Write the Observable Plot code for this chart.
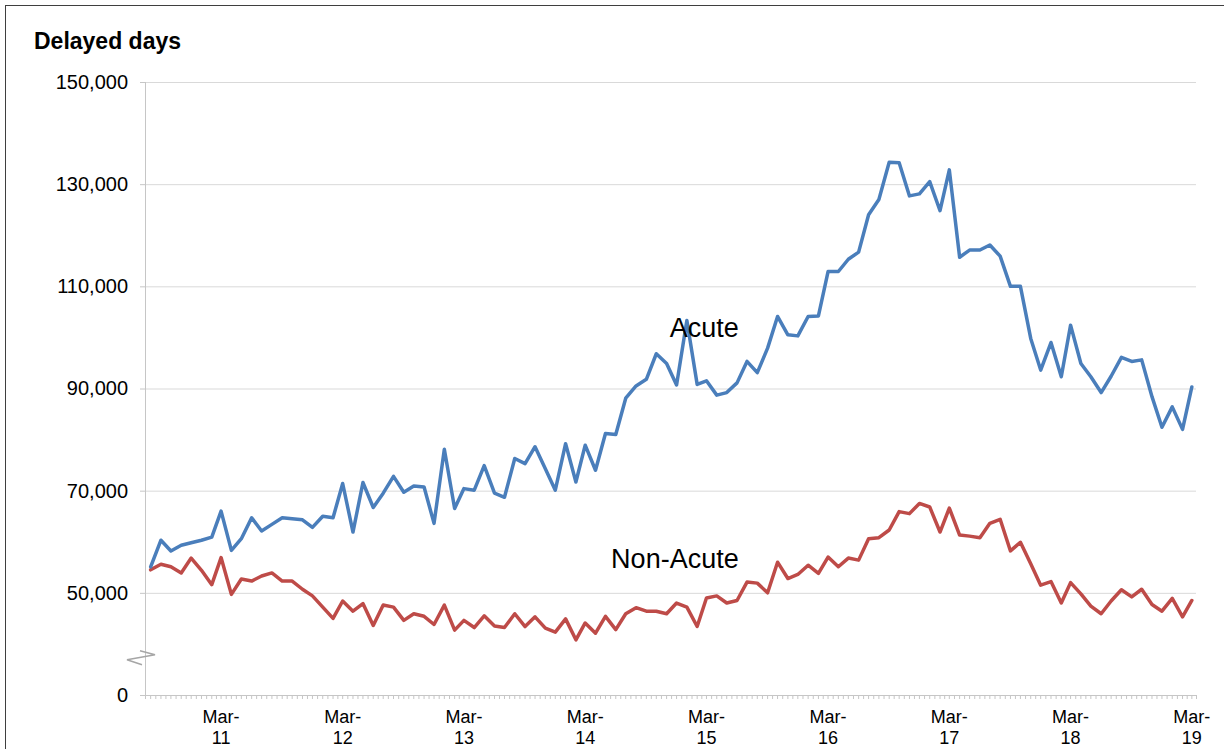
<!DOCTYPE html>
<html>
<head>
<meta charset="utf-8">
<script src="https://cdn.jsdelivr.net/npm/d3@7"></script>
<script src="https://cdn.jsdelivr.net/npm/@observablehq/plot@0.6"></script>
<style>
html, body { margin: 0; padding: 0; background: #fff; overflow: hidden; }
#wrap { position: relative; width: 1224px; height: 749px; font-family: "Liberation Sans", Arial, sans-serif; }
#frame { position: absolute; left: 5px; top: 5px; width: 1240px; height: 770px; border: 1px solid #3f3f3f; box-sizing: border-box; pointer-events: none; }
#title { height: 60px; box-sizing: border-box; padding: 30px 0 0 34px; font-weight: bold; font-size: 23px; line-height: 22px; color: #000; }
#chart svg { display: block; }
</style>
</head>
<body>
<div id="wrap">
  <div id="frame"></div>
  <div id="title">Delayed days</div>
  <div id="chart"></div>
</div>
<script>
// ---- Data (monthly, Aug 2010 – Mar 2019) ----
const firstMonth = new Date(Date.UTC(2010, 7, 1));
const lastMonth = new Date(Date.UTC(2019, 2, 1));
const months = d3.utcMonth.range(firstMonth, d3.utcMonth.offset(lastMonth, 1));

const acute = [
  55200, 60400, 58300, 59400, 59900, 60400, 61000, 66100, 58400, 60700,
  64800, 62200, 63500, 64800, 64600, 64400, 62900, 65100, 64800, 71500,
  62000, 71700, 66800, 69600, 72900, 69800, 71000, 70800, 63700, 78200,
  66600, 70500, 70200, 75000, 69600, 68800, 76400, 75400, 78700, 74400,
  70200, 79300, 71800, 79000, 74100, 81300, 81100, 88200, 90600, 91900,
  96900, 95000, 90800, 103400, 90900, 91600, 88800, 89300, 91200, 95400,
  93200, 98000, 104200, 100600, 100400, 104200, 104300, 113000, 113000, 115400,
  116800, 124100, 127100, 134400, 134300, 127800, 128200, 130600, 124900, 132900,
  115800, 117200, 117200, 118200, 116000, 110100, 110100, 99900, 93700, 99100,
  92400, 102500, 95000, 92400, 89300, 92500, 96200, 95400, 95700, 88500,
  82500, 86500, 82100, 90400
];

const nonAcute = [
  54600, 55700, 55200, 54000, 56900, 54500, 51700, 57000, 49800, 52800,
  52400, 53400, 54000, 52400, 52400, 50800, 49500, 47300, 45100, 48500,
  46500, 48000, 43700, 47700, 47300, 44700, 46000, 45500, 43900, 47700,
  42800, 44700, 43300, 45600, 43600, 43300, 46000, 43500, 45400, 43200,
  42400, 45000, 40900, 44200, 42200, 45500, 42900, 46000, 47200, 46500,
  46500, 46000, 48100, 47300, 43500, 49100, 49500, 48100, 48600, 52200,
  52000, 50100, 56100, 52900, 53700, 55500, 53900, 57100, 55200, 56900,
  56500, 60700, 60900, 62400, 66000, 65600, 67600, 66900, 62000, 66700,
  61400, 61200, 60900, 63700, 64500, 58300, 60000, 55800, 51600, 52300,
  48100, 52100, 49900, 47500, 46000, 48500, 50700, 49300, 50800, 47800,
  46500, 49000, 45400, 48600
];

// Y axis: bottom label "0" sits at the axis break (scale starts at 30,000)
const yTickValues = [30000, 50000, 70000, 90000, 110000, 130000, 150000];
const yTickLabels = ["0", "50,000", "70,000", "90,000", "110,000", "130,000", "150,000"];
const yBreakValue = 37300;

// X axis major labels
const xTickDates = [2011, 2012, 2013, 2014, 2015, 2016, 2017, 2018, 2019].map(y => new Date(Date.UTC(y, 2, 1)));
const xTickLabels = ["Mar-11", "Mar-12", "Mar-13", "Mar-14", "Mar-15", "Mar-16", "Mar-17", "Mar-18", "Mar-19"];

// Series labels
const seriesLabels = [
  {text: "Acute", date: new Date(Date.UTC(2015, 5, 6)), value: 101900},
  {text: "Non-Acute", date: new Date(Date.UTC(2015, 5, 6)), value: 56700}
];

// ---- Build ----
const acuteData = months.map((d, i) => ({date: d, value: acute[i]}));
const nonAcuteData = months.map((d, i) => ({date: d, value: nonAcute[i]}));

const n = months.length;
const xStart = new Date(+months[0] - (months[1] - months[0]) / 2);
const xEnd = new Date(+months[n - 1] + (months[n - 1] - months[n - 2]) / 2);
const minorTicks = [xStart];
months.forEach((m, i) => {
  minorTicks.push(m);
  if (i < n - 1) minorTicks.push(new Date((+m + +months[i + 1]) / 2));
});
minorTicks.push(xEnd);

const yLabelMap = new Map(yTickValues.map((v, i) => [v, yTickLabels[i]]));
const xLabelMap = new Map(xTickDates.map((d, i) => [+d, xTickLabels[i].replace("-", "-\n")]));

const breakMark = (index, scales) => {
  const x0 = scales.x(xStart), y0 = scales.y(yBreakValue);
  const p = d3.path();
  p.moveTo(x0 - 5, y0 - 7);
  p.lineTo(x0 + 10, y0 - 3);
  p.lineTo(x0 - 18, y0 + 2);
  p.lineTo(x0 - 3, y0 + 7);
  return d3.create("svg:path")
    .attr("d", p.toString())
    .attr("fill", "none")
    .attr("stroke", "#a6a6a6")
    .attr("stroke-width", 1.5)
    .node();
};

const chart = Plot.plot({
  width: 1224,
  height: 689,
  marginTop: 22,
  marginBottom: 54,
  marginLeft: 145,
  marginRight: 28,
  style: {fontFamily: '"Liberation Sans", Arial, sans-serif', background: "transparent", color: "#000", overflow: "visible"},
  x: {type: "utc", domain: [xStart, xEnd], label: null},
  y: {type: "linear", domain: [30000, 150000], label: null},
  marks: [
    Plot.ruleY(yTickValues.slice(1), {stroke: "#d9d9d9", strokeWidth: 1}),
    Plot.ruleY([30000], {stroke: "#c6c6c6", strokeWidth: 1}),
    Plot.ruleX([xStart], {y1: 30000, y2: 150000, stroke: "#c6c6c6", strokeWidth: 1}),
    Plot.axisY({ticks: yTickValues, tickSize: 5, tickPadding: 12.5, tickFormat: d => yLabelMap.get(d), fontSize: 20, stroke: "#c6c6c6", fill: "#000", label: null}),
    Plot.axisX({ticks: minorTicks, tickSize: 4, tickFormat: () => "", stroke: "#c6c6c6", label: null}),
    Plot.axisX({ticks: xTickDates, tickSize: 0, tickPadding: 13, tickFormat: d => xLabelMap.get(+d), fontSize: 18, lineHeight: 1.167, fill: "#000", label: null}),
    breakMark,
    Plot.line(nonAcuteData, {x: "date", y: "value", stroke: "#be4b48", strokeWidth: 3.5, strokeLinejoin: "round", strokeLinecap: "round"}),
    Plot.line(acuteData, {x: "date", y: "value", stroke: "#4a7ebb", strokeWidth: 3.5, strokeLinejoin: "round", strokeLinecap: "round"}),
    Plot.text(seriesLabels, {x: "date", y: "value", text: "text", textAnchor: "end", lineAnchor: "middle", fontSize: 27, fill: "#000"})
  ]
});
document.getElementById("chart").appendChild(chart);
</script>
</body>
</html>
